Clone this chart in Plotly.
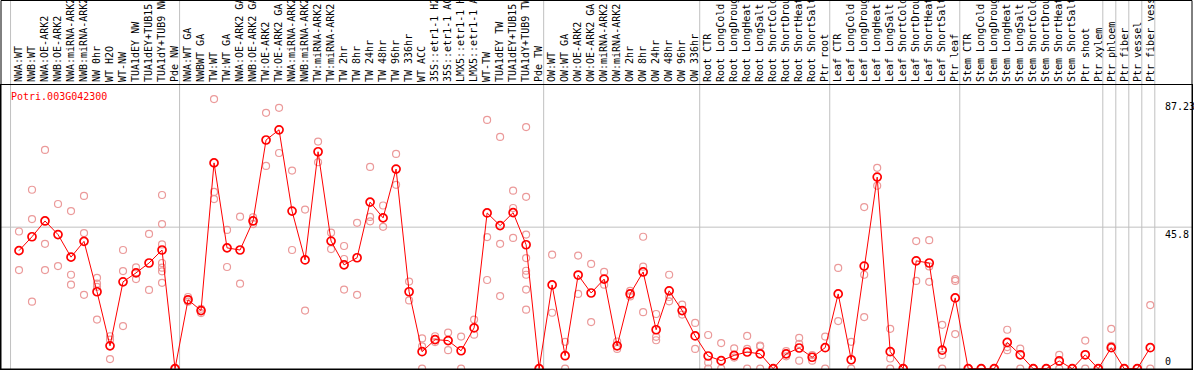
import plotly.graph_objects as go

gene_title = "Potri.003G042300"

categories = [
    "NWA:WT", "NWB:WT", "NWA:OE-ARK2", "NWB:OE-ARK2", "NWA:miRNA-ARK2", "NWB:miRNA-ARK2",
    "NW 0hr", "WT H2O", "WT-NW", "TUA1dEY NW", "TUA1dEY+TUB15 NW", "TUA1dY+TUB9 NW", "Pde NW",
    "NWA:WT GA", "NWBWT GA", "TW:WT", "TW:WT GA", "NWA:OE-ARK2 GA", "NWB:OE-ARK2 GA",
    "TW:OE-ARK2", "TW:OE-ARK2 GA", "NWA:miRNA-ARK2", "NWB:miRNA-ARK2", "TW:miRNA-ARK2",
    "TW:miRNA-ARK2", "TW 2hr", "TW 8hr", "TW 24hr", "TW 48hr", "TW 96hr", "TW 336hr",
    "WT ACC", "35S::etr1-1 H2O", "35S::etr1-1 ACC", "LMX5::etr1-1 H2O", "LMX5::etr1-1 ACC",
    "WT-TW", "TUA1dEY TW", "TUA1dEY+TUB15 TW", "TUA1dY+TUB9 TW", "Pde TW",
    "OW:WT", "OW:WT GA", "OW:OE-ARK2", "OW:OE-ARK2 GA", "OW:miRNA-ARK2", "OW:miRNA-ARK2",
    "OW 2hr", "OW 8hr", "OW 24hr", "OW 48hr", "OW 96hr", "OW 336hr",
    "Root CTR", "Root LongCold", "Root LongDrought", "Root LongHeat", "Root LongSalt",
    "Root ShortCold", "Root ShortDrought", "Root ShortHeat", "Root ShortSalt", "Ptr root",
    "Leaf CTR", "Leaf LongCold", "Leaf LongDrought", "Leaf LongHeat", "Leaf LongSalt",
    "Leaf ShortCold", "Leaf ShortDrought", "Leaf ShortHeat", "Leaf ShortSalt", "Ptr leaf",
    "Stem CTR", "Stem LongCold", "Stem LongDrought", "Stem LongHeat", "Stem LongSalt",
    "Stem ShortCold", "Stem ShortDrought", "Stem ShortHeat", "Stem ShortSalt", "Ptr shoot",
    "Ptr xylem", "Ptr phloem", "Ptr fiber", "Ptr vessel", "Ptr fiber vessel",
]

mean_values = [
    38.2, 42.7, 47.8, 43.4, 36.1, 41.2, 24.9, 7.4, 28.1, 31.0, 34.2, 38.4, 0.0,
    22.3, 18.8, 66.6, 39.1, 38.4, 47.8, 74.0, 77.3, 51.0, 35.2, 70.2, 41.3,
    33.6, 35.9, 53.9, 48.8, 64.6, 24.9, 5.5, 9.4, 9.1, 5.8, 13.2,
    50.4, 46.3, 50.5, 40.1, 0.0,
    27.1, 4.2, 30.3, 24.5, 29.0, 7.4, 24.2, 31.3, 12.6, 25.2, 18.8, 10.6,
    4.1, 2.6, 4.3, 5.4, 4.8, 0.0, 4.8, 6.7, 3.7, 6.8,
    24.2, 2.9, 33.2, 62.0, 5.5, 0.0, 34.9, 34.2, 6.0, 22.9,
    0.0, 0.0, 0.0, 8.5, 4.5, 0.0, 0.0, 2.5, 0.0, 4.5,
    0.0, 6.8, 0.0, 0.0, 6.8,
]

replicate_values = [
    [44.4, 31.9], [57.9, 48.4, 21.7], [70.8, 40.4, 31.9], [53.3, 33.2],
    [51.0, 30.4, 27.2], [55.9, 43.9, 23.9], [29.4, 27.5, 26.5, 15.9], [10.5, 9.4, 3.1],
    [38.4, 31.6, 13.8], [32.8, 29.0], [43.6, 25.5],
    [56.2, 46.8, 40.2, 34.2, 32.7, 31.5, 27.8], [0.0, 0.0],
    [23.2, 21.7], [18.0, 19.4], [87.23, 57.2, 54.9], [44.9, 32.9], [49.2, 27.5],
    [49.0, 46.8], [82.8, 65.6], [84.4, 69.8], [64.1, 38.4], [51.5, 18.8],
    [73.5, 66.8], [44.0, 38.7], [39.7, 35.5, 25.6], [47.2, 23.9], [65.3, 49.1, 47.7],
    [52.8, 45.9], [69.5, 59.5], [28.2, 22.1], [9.8, 7.2, 0.0], [10.5, 8.6],
    [11.7, 6.0], [10.4, 0.0], [15.9, 11.0],
    [80.5, 42.6, 28.7], [75.0, 40.4, 23.5], [57.6, 52.0, 42.3],
    [78.2, 55.6, 43.4, 35.8, 31.7, 30.4, 25.6, 19.1], [0.0],
    [36.9, 18.1], [8.7, 0.0], [36.6, 24.2], [33.9, 15.1], [31.3, 27.2], [8.8, 6.4],
    [25.2, 23.4], [42.7, 33.0, 18.3], [17.7, 10.3, 9.2], [30.4, 23.2, 21.8],
    [20.7, 17.5], [14.8, 6.4],
    [10.9, 2.0, 0.0], [8.3, 0.0], [6.6, 3.6], [10.6, 6.4, 0.0], [7.5, 7.2, 0.0],
    [0.0], [5.7, 4.0], [10.0, 8.0, 2.6], [4.4, 2.6], [10.4, 0.0],
    [32.6, 15.4], [8.7, 0.0], [52.3, 30.4, 16.7], [65.0, 59.2], [12.9, 3.3, 0.0],
    [0.0], [41.3, 28.4], [41.6, 33.1, 28.1], [14.2, 4.4, 0.0], [29.0, 28.4, 11.2],
    [0.0], [0.0], [0.0], [12.6, 7.0, 6.0], [6.5, 0.0], [0.0], [0.0], [4.5, 0.0],
    [0.0], [9.1, 0.0],
    [0.0], [12.9, 7.4], [0.0], [0.0], [20.6, 0.0],
]

y_tick_values = [0, 45.8, 87.23]
y_tick_text = ["0", "45.8", "87.23"]
group_boundaries = [-0.5, 12.5, 40.5, 52.5, 62.5, 72.5, 83.5, 84.5, 85.5, 86.5, 87.5]
mid_grid_value = 45.8

W, H = 1194, 370
ML, MR, MT, MB = 1, 2, 85, 1
plot_h = H - MT - MB
FONT = "DejaVu Sans Mono"
BOUNDARY_SHIFT = -0.15

x_idx = list(range(len(categories)))
rep_x, rep_y = [], []
for i, reps in enumerate(replicate_values):
    for v in reps:
        rep_x.append(i)
        rep_y.append(v)

fig = go.Figure()
fig.add_trace(go.Scatter(
    x=rep_x, y=rep_y, mode="markers",
    marker=dict(symbol="circle-open", size=7, color="#eb9a9a", line=dict(width=1.2)),
    hoverinfo="skip", showlegend=False,
))
fig.add_trace(go.Scatter(
    x=x_idx, y=mean_values, mode="lines+markers",
    line=dict(color="#ff0000", width=1),
    marker=dict(symbol="circle-open", size=8, color="#ff0000", line=dict(width=1.7)),
    showlegend=False,
))

top_paper = 1 + (MT - 0.5) / plot_h
shapes = []
for b in group_boundaries:
    shapes.append(dict(type="line", xref="x", yref="paper", x0=b + BOUNDARY_SHIFT, x1=b + BOUNDARY_SHIFT,
                       y0=0, y1=top_paper, line=dict(color="#c0c0c0", width=1), layer="below"))
shapes.append(dict(type="line", xref="paper", yref="y", x0=0, x1=1, y0=mid_grid_value, y1=mid_grid_value,
                   line=dict(color="#c0c0c0", width=1), layer="below"))
shapes.append(dict(type="rect", xref="paper", yref="paper", x0=0, x1=1, y0=0, y1=top_paper,
                   line=dict(color="black", width=1), layer="above"))

annotations = [dict(text=gene_title, xref="paper", yref="paper", x=8 / (W - ML - MR), y=1 - 4 / plot_h,
                    xanchor="left", yanchor="top", showarrow=False,
                    font=dict(family=FONT, size=10, color="#ff0000"))]
for v, t in zip(y_tick_values, y_tick_text):
    annotations.append(dict(text=t, xref="x", yref="y", x=87.98, y=v,
                            xanchor="left", yanchor="bottom" if v == 0 else "top",
                            showarrow=False, font=dict(family=FONT, size=10, color="black")))

fig.update_layout(
    width=W, height=H,
    margin=dict(l=ML, r=MR, t=MT, b=MB, pad=0, autoexpand=False),
    paper_bgcolor="white", plot_bgcolor="white",
    showlegend=False, hovermode=False,
    shapes=shapes, annotations=annotations,
    xaxis=dict(range=[-1.384, 90.21], tickmode="array", tickvals=x_idx, ticktext=categories,
               side="top", tickangle=-90, ticks="", showgrid=False, zeroline=False,
               automargin=False,
               showline=True, mirror=True, linecolor="black", linewidth=1,
               tickfont=dict(family=FONT, size=10, color="black")),
    yaxis=dict(range=[-0.1, 91.8], showticklabels=False, showgrid=False, zeroline=False,
               automargin=False,
               showline=True, mirror=True, linecolor="black", linewidth=1, ticks=""),
)

fig.write_html("out.html", config={"displayModeBar": False},
               post_script="document.body.style.margin='0';document.body.style.overflow='hidden';")
